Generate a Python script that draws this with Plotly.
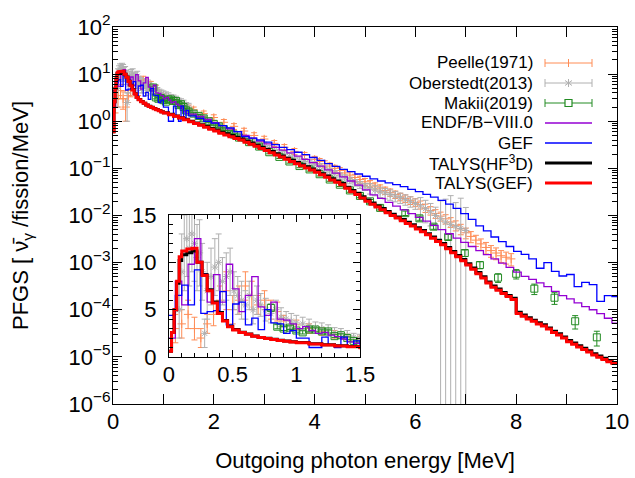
import plotly.graph_objects as go

# ---------------- data ----------------
# TALYS histograms: left bin edges [MeV], last bin ends at 10 MeV
talys_e = [0.00, 0.02, 0.04, 0.06, 0.08, 0.10, 0.14, 0.18, 0.22, 0.26, 0.30, 0.34, 0.38,
           0.42, 0.46, 0.50, 0.55, 0.60, 0.65, 0.70, 0.75, 0.80, 0.85, 0.90, 0.95,
           1.0, 1.1, 1.2, 1.3, 1.4, 1.5, 1.6, 1.7, 1.8, 1.9,
           2.0, 2.1, 2.2, 2.3, 2.4, 2.5, 2.6, 2.7, 2.8, 2.9,
           3.0, 3.1, 3.2, 3.3, 3.4, 3.5, 3.6, 3.7, 3.8, 3.9,
           4.0, 4.1, 4.2, 4.3, 4.4, 4.5, 4.6, 4.7, 4.8, 4.9,
           5.0, 5.1, 5.2, 5.3, 5.4, 5.5, 5.6, 5.7, 5.8, 5.9,
           6.0, 6.1, 6.2, 6.3, 6.4, 6.5, 6.6, 6.7, 6.8, 6.9,
           7.0, 7.1, 7.2, 7.3, 7.4, 7.5, 7.6, 7.7, 7.8, 7.9,
           8.0, 8.1, 8.2, 8.3, 8.4, 8.5, 8.6, 8.7, 8.8, 8.9,
           9.0, 9.1, 9.2, 9.3, 9.4, 9.5, 9.6, 9.7, 9.8, 9.9]
talys_gef = [0.6, 2.6, 5.0, 8.0, 10.6, 11.2, 11.4, 11.5, 10.0, 8.6, 7.0, 5.7, 4.6,
             3.8, 3.2, 2.85, 2.6, 2.4, 2.2, 2.05, 1.95, 1.85, 1.75, 1.67, 1.58,
             1.50, 1.38, 1.27, 1.17, 1.08, 0.98, 0.90, 0.82, 0.75, 0.68,
             0.62, 0.555, 0.51, 0.47, 0.43, 0.40, 0.36, 0.325, 0.295, 0.265,
             0.24, 0.215, 0.193, 0.174, 0.156, 0.14, 0.126, 0.113, 0.102, 0.092,
             0.083, 0.073, 0.065, 0.057, 0.051, 0.045, 0.038, 0.032, 0.028, 0.0235,
             0.020, 0.0174, 0.0151, 0.0132, 0.0115, 0.0100, 0.0088, 0.0077, 0.0068, 0.0060,
             0.0052, 0.0045, 0.0039, 0.0033, 0.0028, 0.0024, 0.00197, 0.00162, 0.00133, 0.00109,
             0.00089, 0.00072, 0.00058, 0.00047, 0.00037, 0.00030, 0.00026, 0.00022, 0.00019, 0.000166,
             0.000083, 0.000073, 0.000064, 0.000057, 0.000050, 0.000045, 0.000039, 0.000033, 0.000029, 0.000025,
             0.000021, 0.0000185, 0.0000163, 0.0000144, 0.0000127, 0.0000110, 0.0000098, 0.0000088, 0.0000079, 0.0000072]
talys_hf3d = [0.6, 2.6, 5.0, 7.8, 10.2, 10.8, 11.0, 11.2, 10.0, 8.7, 7.1, 5.8, 4.7,
              3.85, 3.25, 2.9, 2.62, 2.42, 2.22, 2.07, 1.97, 1.87, 1.77, 1.69, 1.6,
              1.52, 1.40, 1.29, 1.19, 1.10, 1.0, 0.92, 0.84, 0.77, 0.70,
              0.65, 0.585, 0.54, 0.50, 0.455, 0.42, 0.38, 0.345, 0.31, 0.28,
              0.255, 0.228, 0.205, 0.184, 0.165, 0.148, 0.133, 0.12, 0.108, 0.097,
              0.088, 0.077, 0.069, 0.060, 0.054, 0.048, 0.040, 0.034, 0.0296, 0.0249,
              0.0212, 0.0184, 0.0160, 0.0140, 0.0122, 0.0106, 0.0093, 0.0082, 0.0072, 0.0064,
              0.0055, 0.0048, 0.0041, 0.0035, 0.0030, 0.00255, 0.0021, 0.00172, 0.00141, 0.00116,
              0.00095, 0.00077, 0.00062, 0.00050, 0.00039, 0.00032, 0.000275, 0.000233, 0.00020, 0.000176,
              0.000088, 0.000077, 0.000068, 0.000060, 0.000053, 0.000048, 0.000041, 0.000035, 0.000031, 0.0000265,
              0.0000222, 0.0000196, 0.0000173, 0.0000153, 0.0000135, 0.0000117, 0.0000104, 0.0000093, 0.0000084, 0.0000076]

# GEF and ENDF/B-VIII.0 histograms share one bin grid
model_e = [0.00, 0.05, 0.10, 0.15, 0.20, 0.25, 0.30, 0.35, 0.40, 0.45,
           0.50, 0.55, 0.60, 0.65, 0.70, 0.75, 0.80, 0.85, 0.90, 0.95,
           1.00, 1.05, 1.10, 1.15, 1.20, 1.25, 1.30, 1.35, 1.40, 1.45,
           1.50, 1.65, 1.80, 1.95, 2.10, 2.25, 2.40, 2.55, 2.70, 2.85,
           3.00, 3.15, 3.30, 3.45, 3.60, 3.75, 3.90, 4.05, 4.20, 4.35,
           4.50, 4.65, 4.80, 4.95, 5.10, 5.25, 5.40, 5.55, 5.70, 5.85,
           6.00, 6.15, 6.30, 6.45, 6.60, 6.75, 6.90, 7.05, 7.20, 7.35,
           7.50, 7.65, 7.80, 7.95, 8.10, 8.25, 8.40, 8.55, 8.70, 8.85,
           9.00, 9.15, 9.30, 9.45, 9.60, 9.75, 9.90]
gef = [4.4, 6.5, 7.6, 5.5, 9.2, 4.6, 4.8, 4.9, 6.9, 3.4,
       5.6, 5.8, 3.4, 4.1, 2.9, 5.0, 3.6, 3.5, 2.5, 2.8,
       2.0, 2.0, 1.0, 1.0, 2.1, 1.3, 1.0, 2.1, 1.2, 1.7,
       1.3, 1.15, 1.0, 0.91, 0.81, 0.72, 0.60, 0.47, 0.44, 0.40,
       0.36, 0.32, 0.28, 0.25, 0.22, 0.195, 0.17, 0.148, 0.126, 0.11,
       0.095, 0.085, 0.076, 0.068, 0.060, 0.054, 0.049, 0.045, 0.041, 0.036,
       0.032, 0.028, 0.0245, 0.021, 0.0174, 0.0141, 0.011, 0.0083, 0.006, 0.0047,
       0.0035, 0.0028, 0.0022, 0.00174, 0.0015, 0.0012, 0.00076, 0.0010, 0.00065, 0.00052,
       0.00056, 0.00031, 0.00038, 0.00034, 0.00015, 0.00020, 0.00019]
endf = [2.0, 8.0, 5.5, 9.8, 12.5, 8.8, 5.8, 8.7, 5.8, 9.8,
        7.2, 4.8, 6.5, 8.5, 5.3, 4.4, 5.8, 4.0, 3.9, 3.5,
        3.0, 3.2, 2.8, 2.5, 2.6, 2.3, 2.15, 1.9, 1.6, 1.45,
        1.41, 1.26, 1.10, 0.93, 0.81, 0.69, 0.60, 0.50, 0.44, 0.38,
        0.33, 0.28, 0.245, 0.214, 0.182, 0.155, 0.132, 0.112, 0.093, 0.079,
        0.066, 0.054, 0.044, 0.035, 0.0275, 0.023, 0.019, 0.0158, 0.0132, 0.011,
        0.0091, 0.0076, 0.0062, 0.0050, 0.0041, 0.0033, 0.0027, 0.0022, 0.0018, 0.00148,
        0.0012, 0.00098, 0.00079, 0.00063, 0.00051, 0.00044, 0.00037, 0.00031, 0.000245, 0.00020,
        0.00017, 0.00014, 0.000117, 0.00010, 0.000083, 0.000066, 0.000052]

# Peelle(1971)
peelle_e = [0.05, 0.10, 0.15, 0.20, 0.25, 0.30, 0.35, 0.40, 0.45, 0.50, 0.55, 0.60,
            0.65, 0.70, 0.75, 0.80, 0.85, 0.90, 1.00, 1.10, 1.20, 1.30, 1.40, 1.50,
            1.6, 1.8, 2.0, 2.2, 2.4, 2.6, 2.8, 3.0, 3.2, 3.4, 3.6, 3.8,
            4.0, 4.1, 4.2, 4.3, 4.4, 4.5, 4.6, 4.7, 4.8, 4.9,
            5.0, 5.1, 5.2, 5.3, 5.4, 5.5, 5.6, 5.7, 5.8, 5.9,
            6.0, 6.1, 6.2, 6.3, 6.4, 6.5, 6.6, 6.7, 6.8, 6.9,
            7.0, 7.1, 7.2, 7.3, 7.4, 7.5, 7.6, 7.7, 7.8, 7.9]
peelle_v = [3.0, 3.5, 4.5, 3.0, 2.0, 3.5, 4.5, 6.0, 7.0, 5.0, 6.0, 7.5,
            6.5, 5.5, 6.0, 5.0, 4.8, 3.8, 3.4, 3.0, 2.7, 2.4, 2.1, 1.9,
            1.75, 1.45, 1.2, 0.95, 0.78, 0.62, 0.5, 0.42, 0.34, 0.28, 0.23, 0.19,
            0.155, 0.14, 0.125, 0.112, 0.10, 0.09, 0.08, 0.072, 0.064, 0.058,
            0.052, 0.047, 0.042, 0.038, 0.034, 0.031, 0.028, 0.025, 0.023, 0.021,
            0.019, 0.017, 0.0145, 0.0128, 0.011, 0.0097, 0.0085, 0.0073, 0.0062, 0.0052,
            0.0043, 0.0036, 0.0030, 0.0025, 0.0021, 0.0018, 0.0016, 0.0014, 0.0013, 0.0012]
peelle_err = [1.5, 1.5, 1.5, 1.2, 1.0, 1.0, 1.2, 1.5, 2.0, 1.5, 1.5, 1.5,
              1.5, 1.0, 1.0, 1.0, 1.0, 0.6, 0.5, 0.5, 0.4, 0.4, 0.3, 0.3,
              0.25, 0.2, 0.17, 0.14, 0.11, 0.09, 0.07, 0.06, 0.05, 0.04, 0.034, 0.028,
              0.025, 0.022, 0.020, 0.018, 0.016, 0.014, 0.013, 0.012, 0.011, 0.010,
              0.009, 0.008, 0.0072, 0.0066, 0.006, 0.0055, 0.005, 0.0045, 0.0042, 0.0039,
              0.0036, 0.0033, 0.0029, 0.0026, 0.0023, 0.0021, 0.0019, 0.0017, 0.0015, 0.0013,
              0.0011, 0.00095, 0.0008, 0.00068, 0.00058, 0.0005, 0.00045, 0.0004, 0.00037, 0.00035]

# Oberstedt(2013)
ober_e = [0.08, 0.10, 0.12, 0.14, 0.16, 0.18, 0.20, 0.22, 0.24, 0.26, 0.28, 0.30,
          0.33, 0.36, 0.39, 0.42, 0.45, 0.48, 0.51, 0.54, 0.57, 0.60, 0.63, 0.66, 0.69, 0.72,
          0.76, 0.80, 0.84, 0.88, 0.92, 0.96, 1.00,
          1.05, 1.10, 1.15, 1.20, 1.25, 1.30, 1.35, 1.40, 1.45, 1.50,
          1.6, 1.7, 1.8, 1.9, 2.0, 2.1, 2.2, 2.3, 2.4, 2.5,
          2.6, 2.7, 2.8, 2.9, 3.0, 3.1, 3.2, 3.3, 3.4, 3.5,
          3.6, 3.7, 3.8, 3.9, 4.0, 4.1, 4.2, 4.3, 4.4, 4.5,
          4.6, 4.7, 4.8, 4.9, 5.0, 5.1, 5.2, 5.3, 5.4, 5.5,
          5.6, 5.7, 5.8, 5.9, 6.0, 6.1, 6.2, 6.3, 6.4, 6.5,
          6.6, 6.7, 6.8, 6.9, 7.0]
ober_v = [5.0, 9.0, 11.0, 12.5, 11.5, 13.0, 12.0, 10.5, 11.0, 9.0, 2.5, 7.0,
          8.5, 9.5, 10.0, 8.0, 8.5, 9.0, 7.0, 6.5, 6.0, 5.5, 6.5, 5.0, 6.0, 5.5,
          5.0, 4.6, 5.0, 4.2, 4.0, 3.8, 3.6,
          3.5, 3.3, 3.1, 3.0, 2.8, 2.6, 2.5, 2.3, 2.1, 2.0,
          1.5, 1.3, 1.15, 1.0, 0.88, 0.78, 0.70, 0.62, 0.55, 0.49,
          0.44, 0.40, 0.36, 0.32, 0.29, 0.265, 0.24, 0.22, 0.20, 0.18,
          0.165, 0.15, 0.14, 0.13, 0.12, 0.11, 0.098, 0.088, 0.078, 0.07,
          0.063, 0.056, 0.05, 0.045, 0.041, 0.038, 0.035, 0.032, 0.030, 0.028,
          0.026, 0.024, 0.022, 0.020, 0.018, 0.016, 0.014, 0.012, 0.010, 0.0085,
          0.0072, 0.0064, 0.0058, 0.0053, 0.0048]
ober_err = [3, 4, 4, 4, 4, 4, 4, 3.5, 3.5, 3, 1.5, 3,
            3, 3, 3, 2.5, 2.5, 2.5, 2, 2, 2, 1.5, 1.5, 1.5, 1.5, 1.2,
            1.2, 1.0, 1.0, 1.0, 0.8, 0.8, 0.8,
            0.7, 0.7, 0.6, 0.6, 0.6, 0.5, 0.5, 0.5, 0.4, 0.4,
            0.22, 0.2, 0.17, 0.15, 0.13, 0.12, 0.1, 0.09, 0.08, 0.07,
            0.066, 0.06, 0.054, 0.048, 0.044, 0.04, 0.036, 0.033, 0.03, 0.027,
            0.025, 0.023, 0.021, 0.02, 0.018, 0.017, 0.015, 0.013, 0.012, 0.011,
            0.01, 0.009, 0.008, 0.0075, 0.007, 0.0095, 0.0088, 0.008, 0.0075, 0.007,
            0.0065, 0.006, 0.0055, 0.005, 0.0045, 0.008, 0.007, 0.006, 0.005, 0.012,
            0.015, 0.02, 0.013, 0.018, 0.01]

# Makii(2019)
makii_e = [0.80, 0.85, 0.90, 0.95, 1.00, 1.05, 1.10, 1.15, 1.20, 1.25, 1.30, 1.35, 1.40, 1.45, 1.50,
           1.6, 1.7, 1.8, 1.9, 2.0, 2.1, 2.2, 2.3, 2.4, 2.5,
           2.7, 2.9, 3.1, 3.3, 3.5, 3.7, 3.9, 4.1, 4.3, 4.5, 4.7, 4.9, 5.1, 5.3,
           5.8, 6.08, 6.36, 6.65, 6.98, 7.28, 7.64, 8.0, 8.36, 8.76, 9.17, 9.6]
makii_v = [5.2, 3.2, 3.0, 3.1, 2.8, 2.6, 2.9, 2.9, 2.7, 2.7, 2.2, 2.3, 2.0, 1.7, 1.6,
           1.45, 1.3, 1.15, 1.0, 0.88, 0.78, 0.68, 0.6, 0.52, 0.45,
           0.36, 0.29, 0.22, 0.175, 0.14, 0.112, 0.095, 0.075, 0.058, 0.045, 0.034, 0.026, 0.02, 0.0145,
           0.0112, 0.0087, 0.0058, 0.0035, 0.0016, 0.00089, 0.00048, 0.00058, 0.00028, 0.00018, 0.000057, 0.000026]
makii_err = [0.35, 0.22, 0.2, 0.2, 0.18, 0.17, 0.18, 0.18, 0.17, 0.17, 0.15, 0.15, 0.13, 0.12, 0.11,
             0.1, 0.09, 0.08, 0.07, 0.06, 0.055, 0.048, 0.042, 0.037, 0.032,
             0.026, 0.021, 0.016, 0.013, 0.011, 0.0088, 0.0075, 0.006, 0.0047, 0.0037, 0.0029, 0.0022, 0.0018, 0.0014,
             0.0012, 0.001, 0.0007, 0.00045, 0.00025, 0.00015, 0.0001, 0.00013, 0.00007, 0.00005, 0.000018, 0.000009]

x_ticks = [0, 1, 2, 3, 4, 5, 6, 7, 8, 9, 10]
x_ticktext = ["0", "", "2", "", "4", "", "6", "", "8", "", "10"]
y_ticks = [1e-6, 1e-5, 1e-4, 1e-3, 1e-2, 1e-1, 1e0, 1e1, 1e2]
y_ticktext = ["10<sup>\u22126</sup>", "10<sup>\u22125</sup>", "10<sup>\u22124</sup>", "10<sup>\u22123</sup>",
              "10<sup>\u22122</sup>", "10<sup>\u22121</sup>", "10<sup>0</sup>", "10<sup>1</sup>", "10<sup>2</sup>"]

C_PEELLE = "#ff8c55"
C_OBER = "#b0b0b0"
C_MAKII = "#228b22"
C_ENDF = "#9400d3"
C_GEF = "#0000ff"
FONT = "Liberation Sans, Arial, sans-serif"

fig = go.Figure()
SUBPLOTS = [("x", "y"), ("x2", "y2")]


def add_points(e, v, err, color, symbol, size):
    for xa, ya in SUBPLOTS:
        fig.add_trace(go.Scatter(
            x=e, y=v, mode="markers", xaxis=xa, yaxis=ya, showlegend=False,
            marker=dict(symbol=symbol, size=size, color=color,
                        line=dict(color=color, width=1)),
            error_y=dict(type="data", array=err, color=color, thickness=1, width=3),
        ))


def add_hist(e, v, color, width):
    xs = e + [10.0]
    ys = v + [v[-1]]
    for xa, ya in SUBPLOTS:
        fig.add_trace(go.Scatter(
            x=xs, y=ys, mode="lines", xaxis=xa, yaxis=ya, showlegend=False,
            line=dict(color=color, width=width, shape="hv"),
        ))


add_points(peelle_e, peelle_v, peelle_err, C_PEELLE, "cross-thin", 6)
add_points(ober_e, ober_v, ober_err, C_OBER, "asterisk", 6)
add_points(makii_e, makii_v, makii_err, C_MAKII, "square-open", 7)
add_hist(model_e, endf, C_ENDF, 1.3)
add_hist(model_e, gef, C_GEF, 1.3)
add_hist(talys_e, talys_hf3d, "black", 3)
add_hist(talys_e, talys_gef, "red", 3)

axis_common = dict(showline=True, linecolor="black", linewidth=1.2, mirror="allticks",
                   ticks="inside", tickcolor="black", showgrid=False, zeroline=False,
                   tickfont=dict(family=FONT, size=22, color="black"))

fig.update_layout(
    template="none",
    width=635, height=478,
    margin=dict(l=113, r=18, t=27, b=74),
    paper_bgcolor="white", plot_bgcolor="white",
    showlegend=False,
    font=dict(family=FONT, size=22, color="black"),
    xaxis=dict(range=[0, 10], tickmode="array", tickvals=x_ticks, ticktext=x_ticktext,
               ticklen=10, ticklabelstandoff=-3,
               title=dict(text="Outgoing photon energy [MeV]", standoff=20,
                          font=dict(family=FONT, size=22)),
               **axis_common),
    yaxis=dict(type="log", range=[-6, 2], tickmode="array", tickvals=y_ticks, ticktext=y_ticktext,
               ticklen=9, ticklabelstandoff=-3,
               minor=dict(tickmode="array",
                          tickvals=[m * 10.0 ** k for k in range(-6, 2) for m in range(2, 10)],
                          ticks="inside", ticklen=5, tickcolor="black", showgrid=False),
               title=dict(text="PFGS [ \u03bd\u0304<sub>\u03b3</sub> /fission/MeV]", standoff=33,
                          font=dict(family=FONT, size=22)),
               **axis_common),
    xaxis2=dict(domain=[0.1111, 0.4901], anchor="y2", range=[0, 1.5],
                tickmode="array", tickvals=[0, 0.5, 1, 1.5], ticktext=["0", "0.5", "1", "1.5"],
                ticklen=7, ticklabelstandoff=-2,
                minor=dict(dtick=0.1, tick0=0, ticks="inside", ticklen=4,
                           tickcolor="black", showgrid=False),
                **axis_common),
    yaxis2=dict(domain=[0.1247, 0.5013], anchor="x2", range=[0, 15],
                tickmode="array", tickvals=[0, 5, 10, 15],
                ticklen=7, ticklabelstandoff=7,
                minor=dict(dtick=1, tick0=0, ticks="inside", ticklen=4,
                           tickcolor="black", showgrid=False),
                **axis_common),
)

# ---------------- legend drawn by hand (text left, sample right) ----------------
PW, PH = 504.0, 377.0


def px(xp):
    return (xp - 113) / PW


def py(yp):
    return (404 - yp) / PH


leg_names = ["Peelle(1971)", "Oberstedt(2013)", "Makii(2019)", "ENDF/B\u2212VIII.0", "GEF",
             "TALYS(HF<sup>3</sup>D)", "TALYS(GEF)"]
leg_colors = [C_PEELLE, C_OBER, C_MAKII, C_ENDF, C_GEF, "black", "red"]
leg_widths = [1, 1, 1, 1.3, 1.3, 3, 3]
shapes = []
annotations = []
x0, x1 = 545, 592
xm = (x0 + x1) / 2
for i, (name, col, w) in enumerate(zip(leg_names, leg_colors, leg_widths)):
    yc = 63 + 20 * i
    annotations.append(dict(text=name, x=px(535), y=py(yc), xref="paper", yref="paper",
                            xanchor="right", yanchor="middle", showarrow=False,
                            font=dict(family=FONT, size=17, color="black")))

    def seg(xa, ya, xb, yb, c=col, lw=w):
        shapes.append(dict(type="line", xref="paper", yref="paper",
                           x0=px(xa), y0=py(ya), x1=px(xb), y1=py(yb),
                           line=dict(color=c, width=lw)))

    seg(x0, yc, x1, yc)
    if i < 3:
        seg(x0, yc - 4, x0, yc + 4)
        seg(x1, yc - 4, x1, yc + 4)
    if i == 0:
        seg(xm, yc - 4, xm, yc + 4)
    elif i == 1:
        seg(xm, yc - 4, xm, yc + 4)
        seg(xm - 3.5, yc - 2.5, xm + 3.5, yc + 2.5)
        seg(xm - 3.5, yc + 2.5, xm + 3.5, yc - 2.5)
    elif i == 2:
        shapes.append(dict(type="rect", xref="paper", yref="paper",
                           x0=px(xm - 3.5), x1=px(xm + 3.5), y0=py(yc - 3.5), y1=py(yc + 3.5),
                           line=dict(color=col, width=1.2), fillcolor="white"))

fig.update_layout(shapes=shapes, annotations=annotations)

# the page body has a default 8px margin; remove it so the figure sits at the corner
fig.write_html("out.html", config={"displayModeBar": False},
               post_script="document.body.style.margin='0';")
